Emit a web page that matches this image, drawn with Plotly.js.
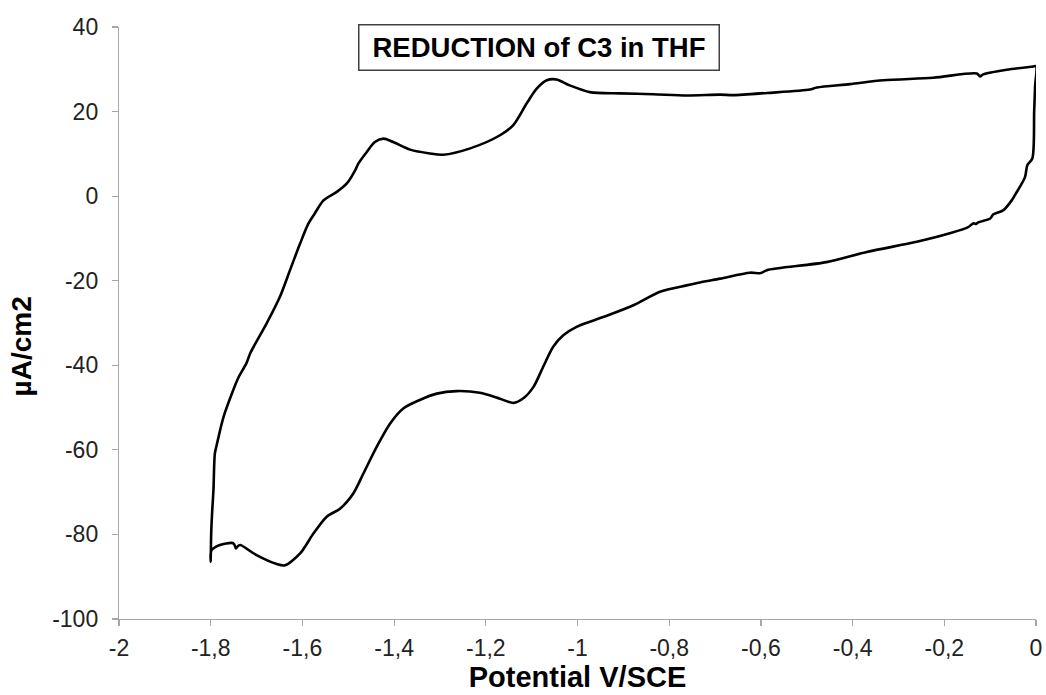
<!DOCTYPE html>
<html>
<head>
<meta charset="utf-8">
<script src="https://cdn.plot.ly/plotly-3.0.1.min.js"></script>
<style>html,body{margin:0;padding:0;background:#fff;}#chart{width:1046px;height:695px;}</style>
</head>
<body>
<div id="chart"></div>
<script>
// Cyclic voltammogram, traced as one closed loop (potential in V/SCE, current in µA/cm2)
const potential = [
  0.000, -0.002, -0.004, -0.008, -0.019, -0.024, -0.044, -0.053, -0.071, -0.093, -0.100,
  -0.126, -0.131, -0.136, -0.149, -0.188, -0.260, -0.369, -0.457, -0.587, -0.600,
  -0.624, -0.689, -0.733, -0.762, -0.820, -0.878, -0.944, -1.002, -1.031, -1.053,
  -1.075, -1.096, -1.118, -1.140, -1.169, -1.213, -1.264, -1.307, -1.344, -1.380,
  -1.409, -1.438, -1.467, -1.489, -1.518, -1.547, -1.576, -1.605, -1.638, -1.656,
  -1.700, -1.736, -1.742, -1.745, -1.749, -1.754, -1.780, -1.798, -1.800, -1.800,
  -1.799, -1.797, -1.794, -1.791, -1.787, -1.772, -1.751, -1.740, -1.722, -1.714, -1.678,
  -1.649, -1.627, -1.605, -1.587, -1.573, -1.554, -1.525, -1.503, -1.485, -1.478,
  -1.460, -1.442, -1.423, -1.402, -1.365, -1.322, -1.293, -1.234, -1.169, -1.140,
  -1.111, -1.089, -1.067, -1.046, -1.017, -0.973, -0.907, -0.835, -0.762, -0.689,
  -0.660, -0.587, -0.493, -0.478, -0.406, -0.333, -0.224, -0.129, -0.122, -0.115,
  -0.064, -0.010, 0.000
];
const current = [
  30.7, 26.0, 20.0, 8.9, 7.3, 4.5, 0.6, -1.0, -3.3, -4.3, -5.3,
  -6.2, -6.6, -6.4, -7.4, -8.8, -10.8, -13.2, -15.6, -17.5, -18.2,
  -18.1, -19.5, -20.4, -21.1, -22.6, -25.8, -28.6, -30.9, -32.9, -35.6,
  -40.4, -45.1, -47.8, -48.9, -47.9, -46.5, -46.1, -46.7, -48.2, -50.2,
  -53.8, -59.3, -65.6, -70.3, -73.9, -75.8, -79.8, -84.5, -87.3, -87.0,
  -84.9, -82.5, -82.9, -83.3, -82.3, -82.0, -82.5, -83.7, -84.5, -86.5,
  -80.0, -75.0, -69.5, -60.9, -58.9, -52.2, -45.9, -43.0, -39.5, -37.2, -30.1,
  -23.8, -17.5, -11.2, -6.5, -4.1, -1.0, 1.0, 3.0, 6.1, 7.7,
  10.4, 12.8, 13.6, 12.8, 11.0, 10.1, 9.8, 11.3, 14.4, 16.8,
  21.9, 25.4, 27.4, 27.6, 26.2, 24.6, 24.3, 24.1, 23.8, 24.0,
  23.9, 24.4, 25.2, 25.7, 26.5, 27.4, 28.0, 29.0, 28.3, 28.8,
  29.9, 30.6, 30.7
];
const xTickVals = [-2, -1.8, -1.6, -1.4, -1.2, -1, -0.8, -0.6, -0.4, -0.2, 0];
const xTickText = ["-2", "-1,8", "-1,6", "-1,4", "-1,2", "-1", "-0,8", "-0,6", "-0,4", "-0,2", "0"];
const yTickVals = [-100, -80, -60, -40, -20, 0, 20, 40];
const yTickText = ["-100", "-80", "-60", "-40", "-20", "0", "20", "40"];
const chartTitle = "REDUCTION of C3 in THF";
const xTitle = "Potential V/SCE";
const yTitle = "µA/cm2";

const FONT = "Liberation Sans, Arial, sans-serif";
const trace = {
  x: potential, y: current, type: "scatter", mode: "lines",
  line: {color: "#000000", width: 2.6, shape: "spline", smoothing: 0.8},
  cliponaxis: false, hoverinfo: "skip", showlegend: false
};
const axisCommon = {
  showgrid: false, zeroline: false, showline: true,
  linecolor: "#a6a6a6", linewidth: 1.2,
  ticks: "outside", ticklen: 6, tickcolor: "#a6a6a6", tickwidth: 1.2,
  tickfont: {family: FONT, size: 23, color: "#222222"},
  tickmode: "array", fixedrange: true
};
const NB = "\u00a0";
const layout = {
  width: 1046, height: 695,
  margin: {l: 119, r: 10, t: 27, b: 76},
  paper_bgcolor: "#ffffff", plot_bgcolor: "#ffffff",
  font: {family: FONT, color: "#000000"},
  xaxis: Object.assign({}, axisCommon, {
    range: [-2, 0], tickvals: xTickVals, ticktext: xTickText,
    ticklabelstandoff: 2,
    title: {text: "<b>" + xTitle + "</b>", font: {family: FONT, size: 29, color: "#000000"}, standoff: 2}
  }),
  yaxis: Object.assign({}, axisCommon, {
    range: [-100, 40], tickvals: yTickVals, ticktext: yTickText,
    ticklabelstandoff: 9,
    title: {text: "<b>" + yTitle + NB.repeat(6) + "</b>", font: {family: FONT, size: 28, color: "#000000"}, standoff: 12}
  }),
  annotations: [{
    xref: "paper", yref: "paper", x: 0.4575, y: 0.966,
    xanchor: "center", yanchor: "middle",
    text: "<b>" + chartTitle + "</b>", showarrow: false,
    font: {family: FONT, size: 27.5, color: "#000000"},
    bordercolor: "#404040", borderwidth: 1.5, borderpad: 6,
    bgcolor: "#ffffff", width: 347, height: 32
  }]
};
Plotly.newPlot("chart", [trace], layout, {displayModeBar: false, staticPlot: true});
</script>
</body>
</html>
